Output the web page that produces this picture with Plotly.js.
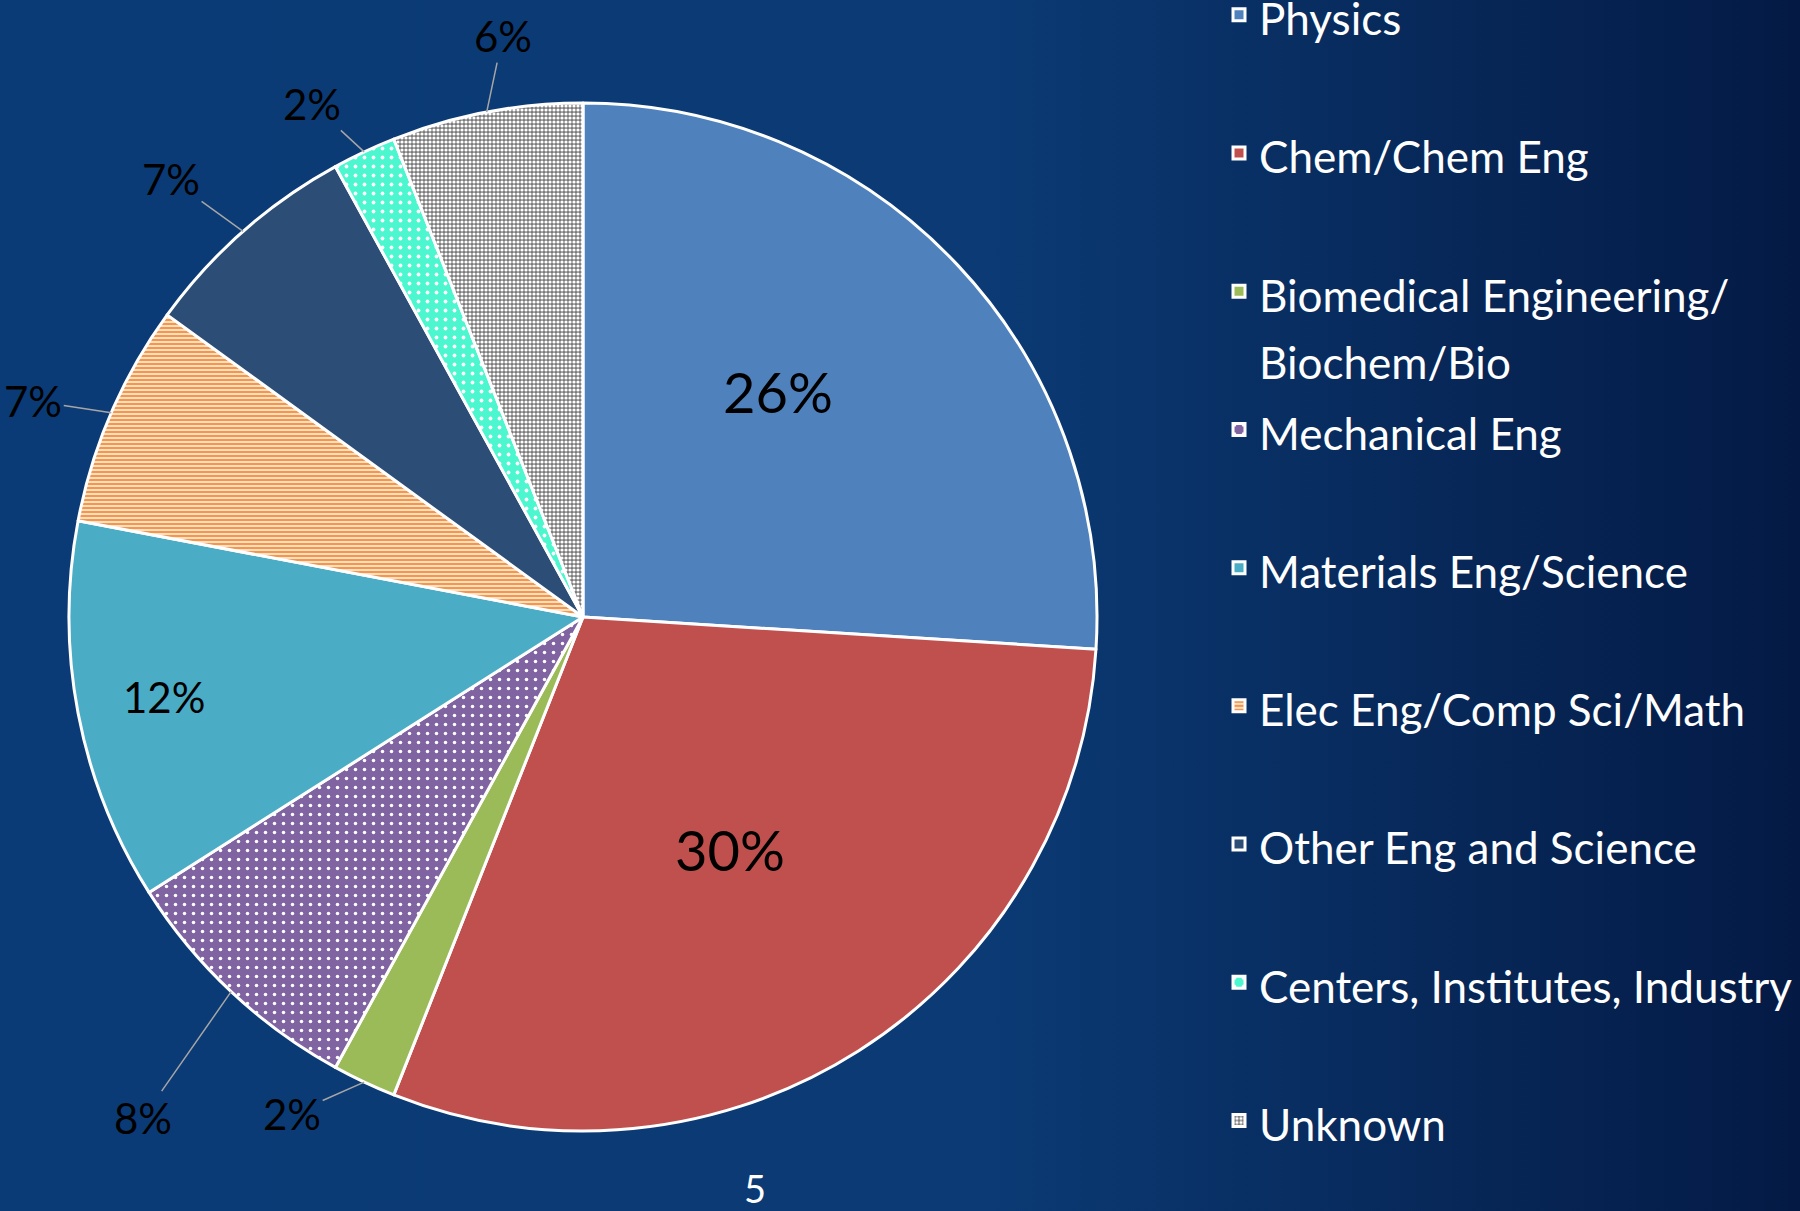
<!DOCTYPE html>
<html><head><meta charset="utf-8">
<script src="https://cdn.plot.ly/plotly-3.0.1.min.js"></script>
<style>
html,body{margin:0;padding:0;width:1800px;height:1211px;overflow:hidden;
background:linear-gradient(90deg,#0b3b76 0%,#0b3a74 55%,#072859 80%,#041a45 100%);}
#chart{width:1800px;height:1211px;}
</style></head>
<body><div id="chart"></div>
<script>
// ---- data ----
const categories = ['Physics','Chem/Chem Eng','Biomedical Engineering/<br>Biochem/Bio','Mechanical Eng',
  'Materials Eng/Science','Elec Eng/Comp Sci/Math','Other Eng and Science','Centers, Institutes, Industry','Unknown'];
const values = [26, 30, 2, 8, 12, 7, 7, 2, 6];
const slideNumber = '5';
const footerText = "MRSEC Director's Meeting";

// ---- styles ----
const colors = ['#4f81bd','#c0504d','#9bbb59','#8064a2','#4bacc6','#f79646','#2c4d75','#4cf7cf','#7a7a7a'];
const patShape = ['', '', '', '.', '', '-', '', '.', '.'];
const patFg = ['', '', '', '#ffffff', '', '#ffffff', '', '#ffffff', '#ffffff'];
const patSize = [8, 8, 8, 9, 8, 4, 8, 9, 4];
const patSolid = [0.3, 0.3, 0.3, 0.12, 0.3, 0.35, 0.3, 0.14, 0.5];
const labelInside = [true, true, false, false, true, false, false, false, false];
const labelRadius = [0.58, 0.535, 1, 1, 0.83, 1, 1, 1, 1];
const labelTurn = [-6, 0, 0, 0, 0, 0, 0, 0, 0];
const labelSize = [56, 56, 42, 42, 42, 42, 42, 42, 42];
const labelAx = [0, 0, -72, -88, 0, -78, -72, -52, 16];
const labelAy = [0, 0, 32, 126, 0, -12, -52, -48, -76];
const legendTextSize = 44;

const W = 1800, H = 1211;
const cx = 583, cy = 617, R = 514;
const domX = [(cx - R) / W, (cx + R) / W];
const domY = [(H - cy - R) / H, (H - cy + R) / H];

const total = values.reduce((a, b) => a + b, 0);
let cum = 0;
const annotations = [];
values.forEach((v, i) => {
  const mid = (cum + v / 2) / total * 2 * Math.PI + labelTurn[i] * Math.PI / 180;
  cum += v;
  const r = R * labelRadius[i];
  const px = cx + r * Math.sin(mid);
  const py = cy - r * Math.cos(mid);
  const txt = Math.round(v / total * 100) + '%';
  const a = {x: px / W, y: 1 - py / H, xref: 'paper', yref: 'paper', text: txt,
    xanchor: 'center', yanchor: 'middle',
    font: {family: 'Lato, "Open Sans", sans-serif', size: labelSize[i], color: '#000000'}};
  if (labelInside[i]) {
    a.showarrow = false;
  } else {
    a.showarrow = true; a.arrowhead = 0; a.arrowwidth = 1.5; a.arrowcolor = '#a6a6a6';
    a.ax = labelAx[i]; a.ay = labelAy[i]; a.standoff = 0;
  }
  annotations.push(a);
});
annotations.push({x: 755 / W, y: 1 - 1188 / H, xref: 'paper', yref: 'paper', showarrow: false,
  xanchor: 'center', yanchor: 'middle',
  text: slideNumber, font: {family: 'Lato, sans-serif', size: 38, color: '#ffffff'}});
annotations.push({x: 1346 / W, y: 1 - 1207 / H, xref: 'paper', yref: 'paper', showarrow: false,
  xanchor: 'left', yanchor: 'top', text: '<i>' + footerText + '</i>',
  font: {family: 'Lato, sans-serif', size: 34, color: '#ffffff'}});

// legend entries: each entry spans two legend lines so that entries are evenly spread
const legendLabels = categories.map(c => {
  const parts = c.split('<br>').map(p => '<span style="font-size:' + legendTextSize + 'px">' + p + '</span>');
  if (parts.length === 1) parts.push('&nbsp;');
  return parts.join('<br>');
});

const trace = {
  type: 'pie', labels: legendLabels, values: values, sort: false, direction: 'clockwise', rotation: 0,
  domain: {x: domX, y: domY}, textinfo: 'none', hoverinfo: 'percent',
  marker: {colors: colors, line: {color: '#ffffff', width: 3},
    pattern: {shape: patShape, fgcolor: patFg, bgcolor: colors, size: patSize, solidity: patSolid, fillmode: 'replace'}}
};

const layout = {
  width: W, height: H, margin: {l: 0, r: 0, t: 0, b: 0, autoexpand: false},
  paper_bgcolor: 'rgba(0,0,0,0)', plot_bgcolor: 'rgba(0,0,0,0)',
  showlegend: true,
  legend: {x: 1219 / W, y: 1.021, xanchor: 'left', yanchor: 'top', valign: 'top', maxheight: 1500,
    font: {family: 'Lato, "Open Sans", sans-serif', size: 52, color: '#ffffff'},
    bgcolor: 'rgba(0,0,0,0)', tracegroupgap: 0},
  annotations: annotations
};
Plotly.newPlot('chart', [trace], layout, {displayModeBar: false, staticPlot: true});
</script>
</body></html>
